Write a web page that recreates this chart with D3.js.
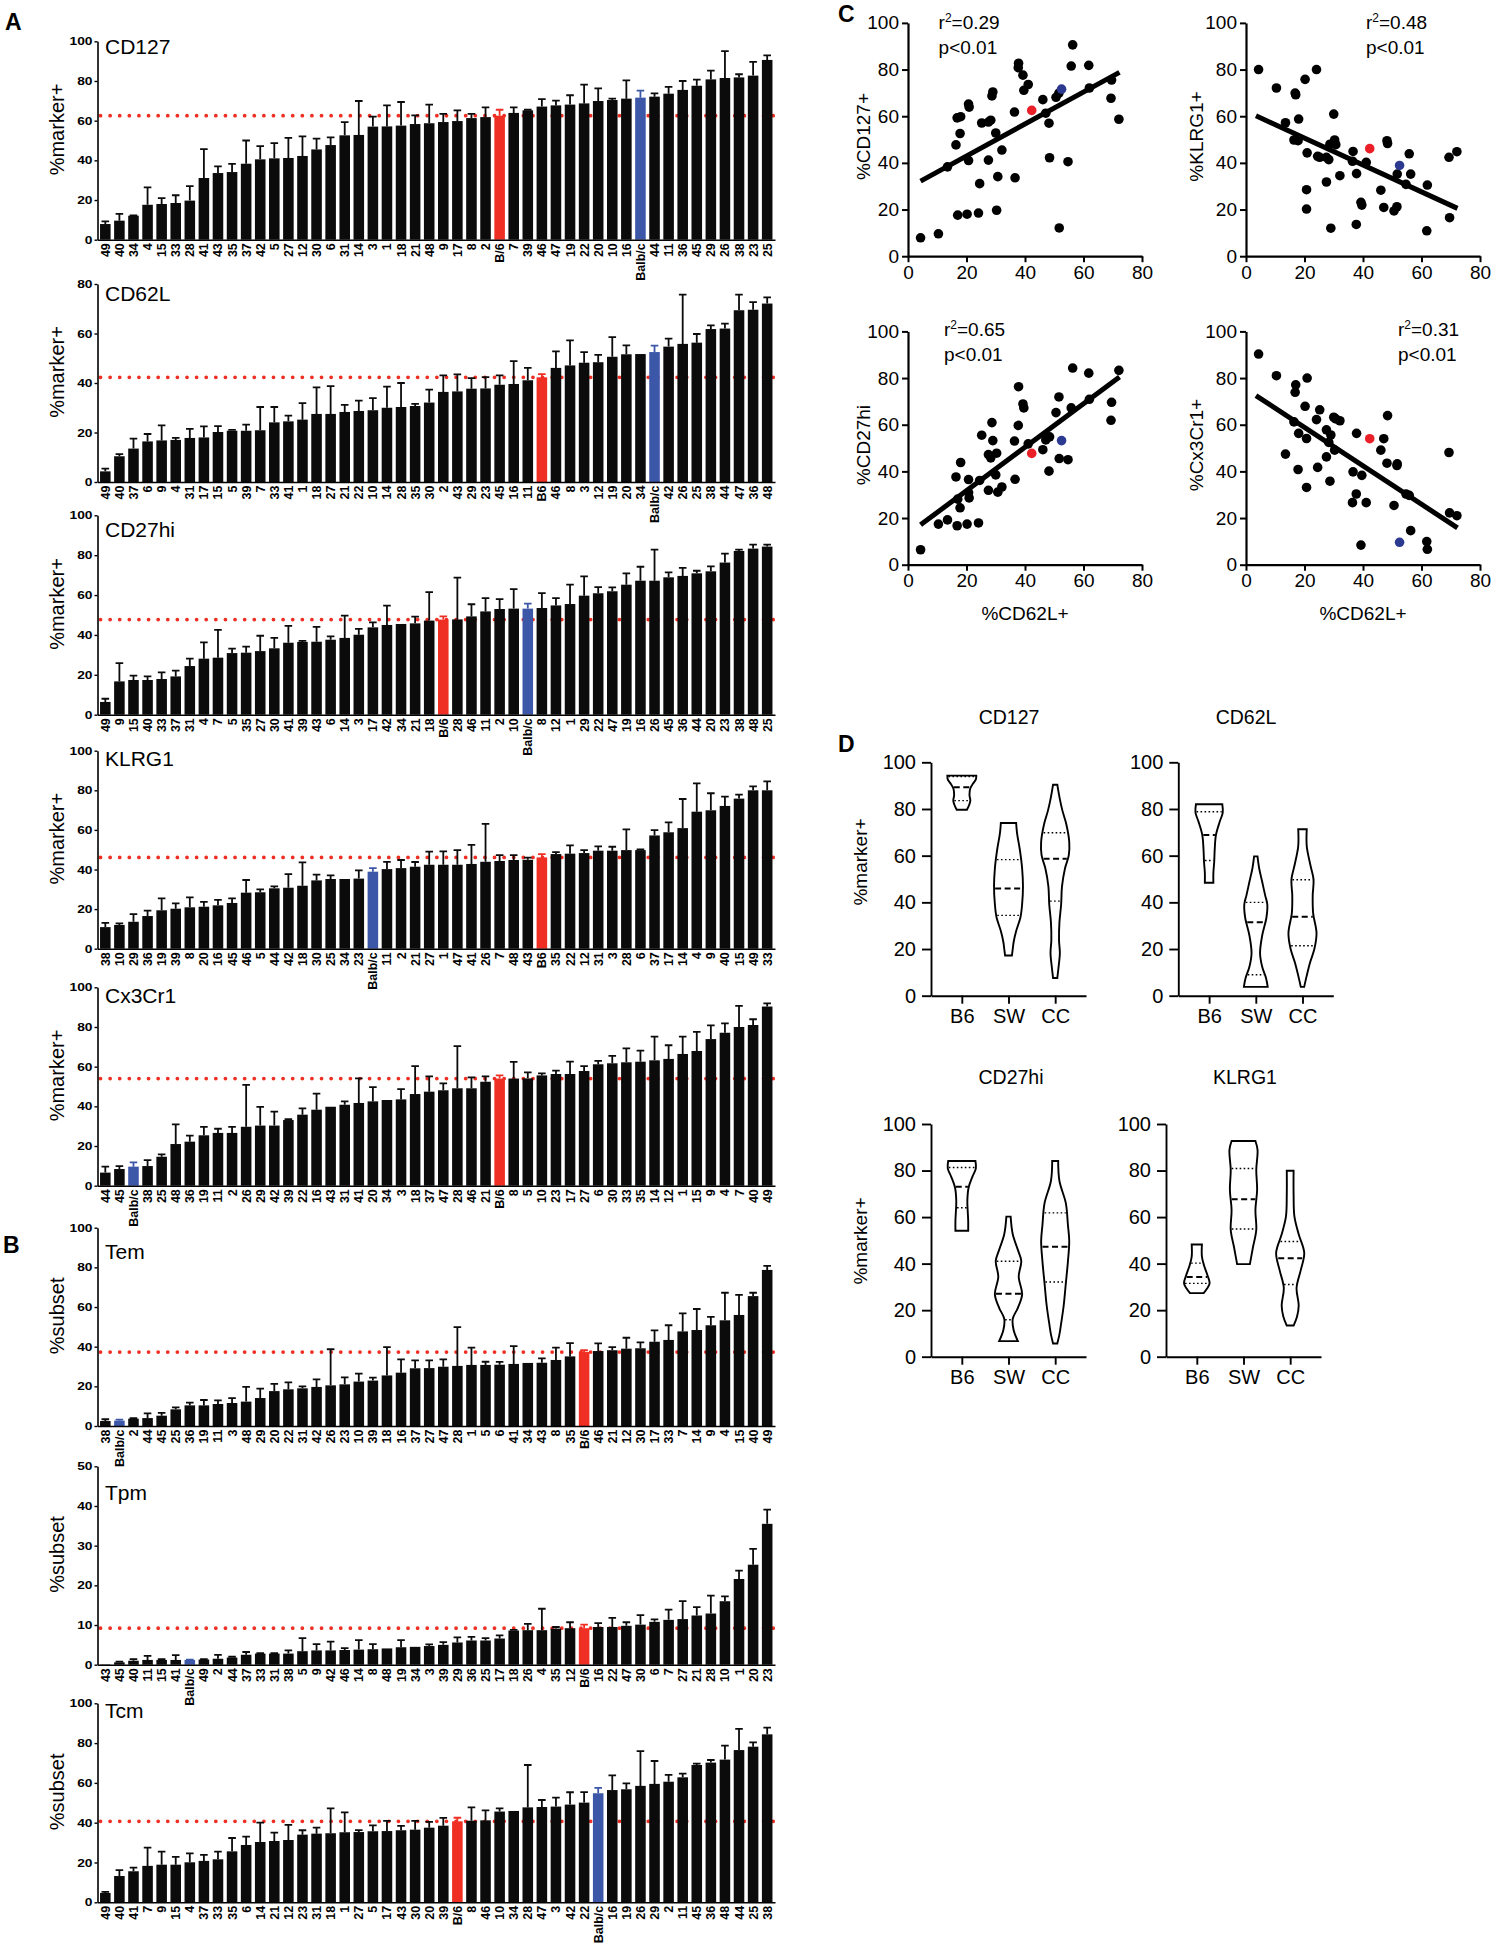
<!DOCTYPE html>
<html><head><meta charset="utf-8">
<script src="https://cdnjs.cloudflare.com/ajax/libs/d3/7.8.5/d3.min.js"></script>
<style>
body{margin:0;background:#fff;}
svg{display:block;font-family:"Liberation Sans",Arial,Helvetica,sans-serif;}
</style></head><body>
<svg id="fig" width="1498" height="1950"></svg>
<script>
// ---------------- Panel A / B bar data ----------------
const cd127Labels = ["49","40","34","4","15","33","28","41","43","35","37","42","5","27","12","30","6","31","14","3","1","18","21","48","9","17","8","2","B/6","7","39","46","47","19","22","20","10","16","Balb/c","44","11","36","45","29","26","38","23","25"];
const cd127Means = [7.9,9.6,12.1,17.6,18,18.5,19.7,31.1,33.6,34.1,38.3,40.5,41,41.2,42.2,45.5,47.7,52.6,52.8,57,57.1,57.5,58.3,58.7,59.3,59.8,61.3,61.8,62.5,63.9,65.2,67.1,67.7,68.1,68.7,69.9,70.4,71.1,71.6,72.1,73.6,75.5,77.6,80.8,81.5,81.8,82.7,90.6];
const cd127Sem = [1.3,3.4,0.2,8.8,3,3.9,7.3,14.6,3.4,4.1,11.7,6.7,7.7,10.1,9.9,5.4,3.9,6.7,17.1,5,10.6,11.9,4.4,9.4,4.1,5.4,2.1,4.9,3,2.8,0.3,3.8,2.4,4.7,9.5,6.4,0.7,9.2,3.5,1.7,3.4,4.5,3.1,4.4,13.5,1.6,6.9,2.3];

const cd62lLabels = ["49","40","37","6","9","4","31","17","15","5","39","7","33","41","1","18","27","21","22","10","14","28","35","30","2","43","29","23","45","16","11","B6","46","8","3","12","19","20","34","Balb/c","42","26","25","38","44","47","36","48"];
const cd62lMeans = [4.3,10.4,13.5,16.4,16.8,17,17.8,18,20.2,20.7,20.7,20.9,24.1,24.5,25.2,27.5,27.5,28.3,28.7,29,30,30.3,30.7,32.1,36.4,36.6,37.7,37.8,39.3,39.6,41.1,42.3,46.1,47.1,48.2,48.4,50.6,51.6,51.7,52.5,54.7,55.8,56.3,61.8,62,69.4,69.6,72.1];
const cd62lSem = [1.1,0.9,4,3,6.1,0.8,3.7,4.5,2.4,0.4,2.5,9.4,6.2,2.3,6.7,10.7,11.2,2.9,4.2,4.9,8.5,9.7,0.9,5.2,6.7,6.9,4.3,4.6,3.8,9.2,5,1.3,6.7,10.1,4.3,3,7.9,3.6,0,2.6,3.2,19.9,3.5,1.5,2,6.3,3.1,2.5];

const cd27Labels = ["49","9","15","40","33","37","31","4","7","5","35","27","30","41","39","43","6","14","3","17","42","34","21","18","B/6","28","46","11","2","10","Balb/c","8","12","1","29","22","47","19","16","26","45","36","44","20","23","38","48","25"];
const cd27Means = [6.4,16.7,17.4,17.4,17.9,19.2,24.4,28.1,28.6,30.9,31.1,31.9,33.3,36.1,36.5,36.6,37.6,38.5,40.1,43.8,45,45.5,45.8,47.2,47.7,47.8,49.3,51.8,53,53.2,53.2,53.5,54.8,55.5,59.7,60.9,61.9,65.2,67.2,67.2,68.9,69.6,70.9,71.9,76.3,82.1,83.3,84.3];
const cd27Sem = [1.6,9.2,2.2,1.8,3.3,2.9,3.7,8.2,13.9,2.2,3,7.7,5.2,8.4,0.5,7.4,1.7,11.2,2.9,2.5,9.7,0,3.4,14.3,1.6,20.9,6.1,6.7,5,9.8,2.5,7.5,3.7,9.7,9.7,3.1,2,5.7,7,15.6,2.5,4,1.3,2.5,4.5,0.7,2,1];

const klrgLabels = ["38","10","29","36","19","39","8","20","16","45","46","5","44","42","18","30","25","34","23","Balb/c","11","2","21","27","1","47","41","26","7","48","43","B6","35","22","12","31","3","28","6","37","17","14","4","9","40","15","49","33"];
const klrgMeans = [10.9,12,13.6,16.5,19.4,20.2,20.9,21.2,21.9,23.1,28.3,28.5,30.5,30.8,31.8,34.5,35.2,35.2,35.4,38.9,40.2,40.7,41.4,42.4,42.4,42.4,42.8,43.9,44.3,44.8,44.9,46.1,47.8,48,48.3,49.5,49.5,49.8,49.8,57.2,58.8,60.9,69.2,69.9,72.1,75.8,80,80];
const klrgSem = [2.1,0.8,3.9,2.7,6,2.7,5,2.4,2.8,2.3,6.4,1.5,1,6.9,11.8,2.9,1.8,0,4.2,1.8,3.7,4.1,2.4,6.6,6.8,7.4,9.6,19.1,3,2.5,1.1,1.7,1,4.2,1.5,2.2,2,10.5,0.4,2.7,5,14.7,14.3,8.6,4.7,2,2,4.5];

const cx3Labels = ["44","45","Balb/c","38","25","48","36","19","11","2","26","29","42","39","22","16","43","31","41","20","34","3","18","37","47","28","46","21","B/6","8","5","10","23","17","27","6","30","33","35","14","12","1","15","9","4","7","40","49"];
const cx3Means = [6.6,8.4,9.6,9.9,14.6,21,22.2,25.4,26.6,26.6,29.7,30.3,30.3,33.1,35.8,38.3,39.8,40.8,41.7,42.5,43.2,43.5,46.2,47.4,48.1,49.1,49.1,52.4,54,54,54.1,55.6,56.3,56.3,57.8,61.2,61.7,62.2,62.5,63.2,63.9,66.4,67.9,73.9,77.1,80,81,90.3];
const cx3Sem = [3,1.5,2.2,3,1.2,9.9,3,4.2,2.1,3.1,21.1,9.4,7,0.5,3.2,8.1,0,1.7,12.4,7.2,0,5.2,14.1,7.7,3.5,21.3,5.5,2.7,1.6,8.4,3,1,1.7,6.2,2.5,1.7,3.7,7,5.6,11.9,6.9,8.7,9.6,6.9,4.7,10.6,2.9,1.6];

const temLabels = ["38","Balb/c","2","44","45","25","36","19","11","3","48","29","20","22","31","42","26","23","10","39","18","16","37","27","47","28","1","5","6","41","34","43","8","35","B/6","46","21","12","30","17","33","7","14","9","4","15","40","49"];
const temMeans = [2.5,2.7,3.7,4,5.2,8.4,10.4,10.4,11.1,11.6,12.3,14.1,17.6,18.5,19,19.7,20.5,21,22.4,22.9,25.5,26.9,29.1,29.2,29.9,30.3,30.8,30.8,30.9,31.3,31.8,31.9,33.3,35.1,37.3,37.8,38.2,39,39.2,42.5,43.4,47.7,48.4,50.8,53.3,56,65.5,78.7];
const temSem = [0.9,0.5,0.3,2.4,1.4,1,1.4,2.7,1.8,2.5,7.4,4.7,3.6,3.5,1,3.8,18.2,3.5,4,1.5,14.3,6.7,4,3.9,3.7,19.6,8.7,1.6,1.4,9,0,2.2,6.2,6.7,0.9,3.9,1.6,5.5,3,5.7,7.4,9.1,10.6,4.2,13.9,10.1,1.7,2];

const tpmLabels = ["43","45","40","11","15","41","Balb/c","49","2","44","37","33","31","38","5","9","42","46","14","8","48","19","34","3","39","29","36","25","17","18","26","4","35","12","B/6","16","22","47","30","6","7","27","21","28","10","1","20","23"];
const tpmMeans = [0.1,0.6,1,1.2,1.2,1.2,1.2,1.3,1.5,1.8,2.5,2.8,2.8,2.8,3.4,3.6,3.6,3.7,3.8,3.9,4.1,4.4,4.5,4.7,5,5.6,6.1,6.1,6.6,8.6,8.7,8.7,9.1,9.2,9.2,9.5,9.5,9.8,10.1,10.8,11.3,11.5,12.4,12.9,16,21.6,25.2,35.5];
const tpmSem = [0,0.2,0.4,1,0.2,1.2,0.1,0.1,1,0.2,0.7,0.1,0.1,0.8,3.3,1.6,2.2,0.5,2.4,1.3,0,1.8,0,0.4,0.7,1.3,0.9,0.6,0.8,0.2,1.6,5.4,0.4,1.5,0.9,1,2.3,0.9,2.4,0.6,2.6,4.5,2.1,4.5,1.2,2.1,4,3.6];

const tcmLabels = ["49","40","41","7","9","15","4","37","33","35","6","14","21","12","23","31","18","1","27","5","17","43","30","20","39","B/6","8","46","10","34","28","47","3","42","22","Balb/c","16","19","26","29","2","11","45","36","48","44","25","38"];
const tcmMeans = [4.7,13.2,15.6,18.3,18.9,18.9,20.1,20.8,21.6,25.6,28.8,30.3,30.8,31.3,34,34.5,34.7,35.2,35.3,35.7,35.8,36.2,36.5,37.5,38.5,40.7,41,41.2,45.6,45.9,47.7,47.9,48.1,49.1,50.1,54.8,56.4,56.8,58.5,59.5,60.6,62.8,69,70.2,71.7,76.5,78.2,84.4];
const tcmSem = [0.5,3,1.8,9.2,6.6,3.9,4.5,3,3.9,6.7,4.2,9.7,4.2,7.6,2.2,3,12.5,10,1,3,5.1,2.2,4.4,2.9,3.9,1.8,6.7,5,1.6,0,21.3,3.5,4.5,6.2,5.3,2.7,7.4,3,17.5,11.5,3.4,1.9,0.7,1.3,7,10.6,2.2,3.4];

// ---------------- Panel C regression lines ----------------
const fitCD127 = [[4.3,32.2],[72.3,78.8]];
const fitKLRG1 = [[3.4,60.2],[72.3,20.5]];
const fitCD27 = [[4.3,17.1],[72.3,80.5]];
const fitCx3 = [[3.4,72.5],[72.3,15.8]];
const xTicksC = [0,20,40,60,80];
const yTicks100 = [0,20,40,60,80,100];

// ---------------- Panel D violin data: [value, relative half width] ----------------
const groupsD = ["B6","SW","CC"];
const vCD127_B6 = [[94.3,34],[92.7,33],[90.8,26],[88.9,20],[86,18],[83.6,20],[81.6,17],[79.7,12]];
const vCD127_SW = [[74,18],[69.8,20],[62.1,27],[54.5,32],[46.8,34],[39.2,32],[33.5,28],[27.7,18],[22.9,12],[20.1,10],[17.2,8]];
const vCD127_CC = [[90.4,5],[85.1,10],[79.3,17],[73.6,26],[66,33],[60.2,32],[54.5,23],[46.8,16],[39.2,14],[31.5,10],[23.9,9],[18.2,11],[12.4,8],[7.6,5]];
const qCD127 = {B6:[83.6,89.3,93.9], SW:[34.4,45.9,58.3], CC:[40.5,58.7,69.8]};
const vCD62L_B6 = [[82,31],[78.4,32],[74.6,25],[68.8,16],[62.1,13],[57.4,12],[52.6,10],[48.4,10]];
const vCD62L_SW = [[59.7,4],[54.5,8],[48.8,15],[43,22],[39.2,27],[33.5,25],[25.8,15],[18.2,10],[12.4,15],[7.6,24],[3.8,28]];
const vCD62L_CC = [[71.3,10],[64.1,10],[56.4,18],[49.7,26],[43,24],[35.4,25],[26.8,33],[20.1,28],[14.3,18],[8.6,10],[3.8,4]];
const qCD62L = {B6:[57.9,68.8,78.8], SW:[9,31.5,40], CC:[21.4,33.8,49.7]};
const vCD27_B6 = [[84.1,32],[80.9,33],[77.4,25],[72.7,16],[66.9,13],[62.1,14],[58.3,15],[54.1,15]];
const vCD27_SW = [[60.2,5],[52.6,10],[45.9,22],[41.1,30],[34.4,24],[26.8,32],[21,22],[16.3,10],[11.5,12],[6.7,22]];
const vCD27_CC = [[84.1,7],[75.5,10],[66,25],[56.4,30],[49.7,33],[41.1,30],[31.5,25],[22,20],[14.3,14],[9.6,10],[5.7,5]];
const qCD27 = {B6:[64,73,81.3], SW:[15.9,27,41], CC:[32.1,47.2,61.8]};
const vKLRG1_B6 = [[48.2,12],[43,12],[39.2,17],[35,25],[31.5,30],[29.3,24],[27.3,16]];
const vKLRG1_SW = [[92.7,28],[88.9,33],[80.3,30],[71.7,32],[63.1,28],[54.5,30],[46.8,22],[39.8,15]];
const vKLRG1_CC = [[79.9,8],[69.8,8],[60.2,10],[52.6,20],[44.6,33],[37.3,25],[29.6,15],[22,20],[17.2,16],[13.4,8]];
const qKLRG1 = {B6:[31.5,34.2,40.2], SW:[54.9,67.7,80.9], CC:[31,42.3,49.5]};

// ---------------- drawing ----------------
const FONT = "'Liberation Sans', Arial, Helvetica, sans-serif";
const RED = "#ef2f24", BLUE = "#3c57a8", BLACK = "#0b0b0b";
const SRED = "#ea1f27", SBLUE = "#2b3990";
const svg = d3.select("#fig");
const BX0 = 97.5, BX1 = 775;
const isB6 = l => l === "B6" || l === "B/6";

function panelLetter(t, x, y){
  svg.append("text").attr("x",x).attr("y",y).text(t)
    .attr("font-size",23).attr("font-weight","bold").attr("font-family",FONT);
}

function drawBars(c){
  const g = svg.append("g");
  const idx = d3.range(c.labels.length);
  const x = d3.scaleBand().domain(idx).range([BX0, BX1]).paddingInner(0.25).paddingOuter(0.18);
  const y = d3.scaleLinear().domain([0, c.yMax]).range([c.bottom, c.top]);
  const colorOf = l => isB6(l) ? RED : (l === "Balb/c" ? BLUE : BLACK);
  const b6 = c.labels.findIndex(isB6);
  g.append("line").attr("x1", BX0 + 3).attr("x2", BX1)
    .attr("y1", y(c.means[b6])).attr("y2", y(c.means[b6]))
    .attr("stroke", RED).attr("stroke-width", 3.8)
    .attr("stroke-linecap","round").attr("stroke-dasharray","0.01,9.6");
  g.selectAll(".err").data(idx.filter(i => c.sem[i] > 0)).join("path")
    .attr("d", i => {
      const cx = x(i) + x.bandwidth()/2, y1 = y(c.means[i]), y2 = y(c.means[i] + c.sem[i]);
      return `M${cx},${y1}V${y2}M${cx-3.8},${y2}H${cx+3.8}`;
    })
    .attr("stroke", i => colorOf(c.labels[i])).attr("stroke-width", 1.8).attr("fill","none");
  g.selectAll(".bar").data(idx).join("rect")
    .attr("x", i => x(i)).attr("width", x.bandwidth())
    .attr("y", i => y(c.means[i])).attr("height", i => c.bottom - y(c.means[i]))
    .attr("fill", i => colorOf(c.labels[i]));
  const ya = g.append("g").attr("transform", `translate(${BX0},0)`)
    .call(d3.axisLeft(y).tickValues(d3.range(0, c.yMax + 0.01, c.step)).tickSize(3).tickSizeOuter(0).tickPadding(2));
  ya.attr("font-family", FONT).attr("font-size", 11).attr("font-weight","bold");
  ya.select(".domain").attr("stroke-width", 1.6);
  ya.selectAll(".tick line").attr("stroke-width", 1.4);
  ya.selectAll("text").attr("transform","scale(1.25,1)").attr("x", -5/1.25);
  const xa = g.append("g").attr("transform", `translate(0,${c.bottom})`)
    .call(d3.axisBottom(x).tickFormat(i => c.labels[i]).tickSize(0).tickSizeOuter(0));
  xa.attr("font-family", FONT).attr("font-size", 12.5).attr("font-weight","bold");
  xa.select(".domain").attr("stroke-width", 1.6);
  xa.selectAll("text").attr("transform","rotate(-90)").attr("x", -3.5).attr("y", 0)
    .attr("dy","0.36em").attr("text-anchor","end");
  svg.append("text").attr("x",105).attr("y",c.titleY).text(c.title)
    .attr("font-size",21).attr("font-family",FONT);
  const mid = (c.top + c.bottom)/2 - 11;
  svg.append("text").attr("transform",`translate(57,${mid}) rotate(-90)`)
    .attr("text-anchor","middle").attr("dy","0.35em").text(c.yTitle)
    .attr("font-size",20).attr("font-family",FONT);
}

const barCharts = [
  {title:"CD127", yTitle:"%marker+", labels:cd127Labels, means:cd127Means, sem:cd127Sem, yMax:100, step:20, top:41.3, bottom:239.7, titleY:54},
  {title:"CD62L", yTitle:"%marker+", labels:cd62lLabels, means:cd62lMeans, sem:cd62lSem, yMax:80, step:20, top:284, bottom:482, titleY:301},
  {title:"CD27hi", yTitle:"%marker+", labels:cd27Labels, means:cd27Means, sem:cd27Sem, yMax:100, step:20, top:515.3, bottom:714.7, titleY:537},
  {title:"KLRG1", yTitle:"%marker+", labels:klrgLabels, means:klrgMeans, sem:klrgSem, yMax:100, step:20, top:750.7, bottom:948.7, titleY:765.7},
  {title:"Cx3Cr1", yTitle:"%marker+", labels:cx3Labels, means:cx3Means, sem:cx3Sem, yMax:100, step:20, top:987.3, bottom:1185.7, titleY:1002.7},
  {title:"Tem", yTitle:"%subset", labels:temLabels, means:temMeans, sem:temSem, yMax:100, step:20, top:1227.7, bottom:1426, titleY:1258.7},
  {title:"Tpm", yTitle:"%subset", labels:tpmLabels, means:tpmMeans, sem:tpmSem, yMax:50, step:10, top:1466.3, bottom:1664.7, titleY:1499.7},
  {title:"Tcm", yTitle:"%subset", labels:tcmLabels, means:tcmMeans, sem:tcmSem, yMax:100, step:20, top:1703.3, bottom:1902.3, titleY:1717.7}
];
barCharts.forEach(drawBars);
panelLetter("A", 5, 30);
panelLetter("B", 3, 1253);

// ---------------- Panel C ----------------
const norm = l => isB6(l) ? "B6" : l;
function lookup(labels, means){ const m = new Map(); labels.forEach((l,i)=>m.set(norm(l), means[i])); return m; }

function drawScatter(s){
  const g = svg.append("g");
  const x = d3.scaleLinear().domain([0,80]).range([s.x0, s.x1]);
  const y = d3.scaleLinear().domain([0,100]).range([s.y0, s.y1]);
  const ym = lookup(s.labels, s.means);
  const pts = cd62lLabels.map((l,i) => ({l:norm(l), x:cd62lMeans[i], y:ym.get(norm(l))})).filter(d => d.y !== undefined);
  pts.sort((a,b) => (a.l==="B6"||a.l==="Balb/c") - (b.l==="B6"||b.l==="Balb/c"));
  g.selectAll("circle").data(pts).join("circle")
    .attr("cx", d => x(d.x)).attr("cy", d => y(d.y)).attr("r", 4.8)
    .attr("fill", d => d.l==="B6" ? SRED : (d.l==="Balb/c" ? SBLUE : "#000"));
  g.append("line").attr("x1", x(s.fit[0][0])).attr("y1", y(s.fit[0][1]))
    .attr("x2", x(s.fit[1][0])).attr("y2", y(s.fit[1][1]))
    .attr("stroke","#000").attr("stroke-width",5);
  const ya = g.append("g").attr("transform",`translate(${s.x0},0)`)
    .call(d3.axisLeft(y).tickValues(yTicks100).tickSize(6).tickSizeOuter(0).tickPadding(3));
  const xa = g.append("g").attr("transform",`translate(0,${s.y0})`)
    .call(d3.axisBottom(x).tickValues(xTicksC).tickSize(6).tickSizeOuter(0).tickPadding(3));
  [ya, xa].forEach(a => { a.attr("font-family",FONT).attr("font-size",19);
    a.select(".domain").attr("stroke-width",2.2); a.selectAll(".tick line").attr("stroke-width",2); });
  g.append("text").attr("transform",`translate(${s.tx},${(s.y0+s.y1)/2 - 3}) rotate(-90)`)
    .attr("text-anchor","middle").attr("dy","0.35em").text(s.yTitle)
    .attr("font-size",19).attr("font-family",FONT);
  if (s.xTitle) g.append("text").attr("x",(s.x0+s.x1)/2).attr("y",620).attr("text-anchor","middle")
    .text("%CD62L+").attr("font-size",19).attr("font-family",FONT);
  const t = g.append("text").attr("x", s.ax).attr("y", s.ay).attr("font-size",19).attr("font-family",FONT);
  t.append("tspan").text("r");
  t.append("tspan").text("2").attr("font-size",12).attr("dy",-7);
  t.append("tspan").text("=" + s.r2).attr("dy",7);
  g.append("text").attr("x", s.ax).attr("y", s.ay + 25).text("p<0.01")
    .attr("font-size",19).attr("font-family",FONT);
}

drawScatter({labels:cd127Labels, means:cd127Means, fit:fitCD127, x0:908, x1:1142, y0:256.2, y1:22.9, tx:863, yTitle:"%CD127+", ax:938.6, ay:28.5, r2:"0.29"});
drawScatter({labels:klrgLabels, means:klrgMeans, fit:fitKLRG1, x0:1246, x1:1480, y0:256.2, y1:22.9, tx:1196, yTitle:"%KLRG1+", ax:1366, ay:28.5, r2:"0.48"});
drawScatter({labels:cd27Labels, means:cd27Means, fit:fitCD27, x0:908, x1:1142, y0:564.7, y1:331.4, tx:863, yTitle:"%CD27hi", ax:944, ay:336, r2:"0.65", xTitle:true});
drawScatter({labels:cx3Labels, means:cx3Means, fit:fitCx3, x0:1246, x1:1480, y0:564.7, y1:331.4, tx:1196, yTitle:"%Cx3Cr1+", ax:1398, ay:336, r2:"0.31", xTitle:true});
panelLetter("C", 838, 22);

// ---------------- Panel D ----------------
function interpW(prof, v){
  const p = prof.slice().sort((a,b)=>a[0]-b[0]);
  if (v <= p[0][0]) return p[0][1];
  if (v >= p[p.length-1][0]) return p[p.length-1][1];
  for (let i=1;i<p.length;i++){
    if (v <= p[i][0]) { const t=(v-p[i-1][0])/(p[i][0]-p[i-1][0]); return p[i-1][1] + t*(p[i][1]-p[i-1][1]); }
  }
  return 0;
}
function drawViolin(v){
  const g = svg.append("g");
  const x = d3.scalePoint().domain(groupsD).range([v.ax, v.ax + 155]).padding(0.66);
  const y = d3.scaleLinear().domain([0,100]).range([v.y0, v.y100]);
  const w = d3.scaleLinear().domain([0,35]).range([0,14.9]);
  groupsD.forEach(gn => {
    const prof = v.profiles[gn], cx = x(gn);
    const area = d3.area().y(d => y(d[0])).x0(d => cx - w(d[1])).x1(d => cx + w(d[1])).curve(d3.curveCatmullRom);
    g.append("path").attr("d", area(prof)).attr("fill","#fff").attr("stroke","#000").attr("stroke-width",1.9);
    v.quart[gn].forEach((q,k) => {
      const hw = w(interpW(prof, q)) - 1;
      g.append("line").attr("x1",cx-hw).attr("x2",cx+hw).attr("y1",y(q)).attr("y2",y(q))
        .attr("stroke","#000").attr("stroke-width", k===1 ? 2 : 1.4)
        .attr("stroke-dasharray", k===1 ? "6,3.5" : "1.6,2.4");
    });
  });
  const ya = g.append("g").attr("transform",`translate(${v.ax},0)`)
    .call(d3.axisLeft(y).tickValues(yTicks100).tickSize(9).tickSizeOuter(0).tickPadding(6));
  const xa = g.append("g").attr("transform",`translate(0,${v.y0})`)
    .call(d3.axisBottom(x).tickSize(8).tickSizeOuter(0).tickPadding(5));
  [ya, xa].forEach(a => { a.attr("font-family",FONT).attr("font-size",20);
    a.select(".domain").attr("stroke-width",1.9); a.selectAll(".tick line").attr("stroke-width",1.9); });
  g.append("text").attr("x", v.tx).attr("y", v.ty).attr("text-anchor","middle").text(v.title)
    .attr("font-size",19.5).attr("font-family",FONT);
  if (v.yTitle) g.append("text").attr("transform",`translate(860,${v.yt}) rotate(-90)`)
    .attr("text-anchor","middle").attr("dy","0.35em").text("%marker+")
    .attr("font-size",19).attr("font-family",FONT);
}
drawViolin({title:"CD127", tx:1009, ty:723.5, ax:931, y0:995.7, y100:762.3, profiles:{B6:vCD127_B6, SW:vCD127_SW, CC:vCD127_CC}, quart:qCD127, yTitle:true, yt:862});
drawViolin({title:"CD62L", tx:1246, ty:723.5, ax:1178.3, y0:995.7, y100:762.3, profiles:{B6:vCD62L_B6, SW:vCD62L_SW, CC:vCD62L_CC}, quart:qCD62L});
drawViolin({title:"CD27hi", tx:1011, ty:1083.8, ax:931, y0:1356.7, y100:1124, profiles:{B6:vCD27_B6, SW:vCD27_SW, CC:vCD27_CC}, quart:qCD27, yTitle:true, yt:1241});
drawViolin({title:"KLRG1", tx:1245, ty:1083.8, ax:1166, y0:1356.7, y100:1124, profiles:{B6:vKLRG1_B6, SW:vKLRG1_SW, CC:vKLRG1_CC}, quart:qKLRG1});
panelLetter("D", 838, 752);
</script>
</body></html>
